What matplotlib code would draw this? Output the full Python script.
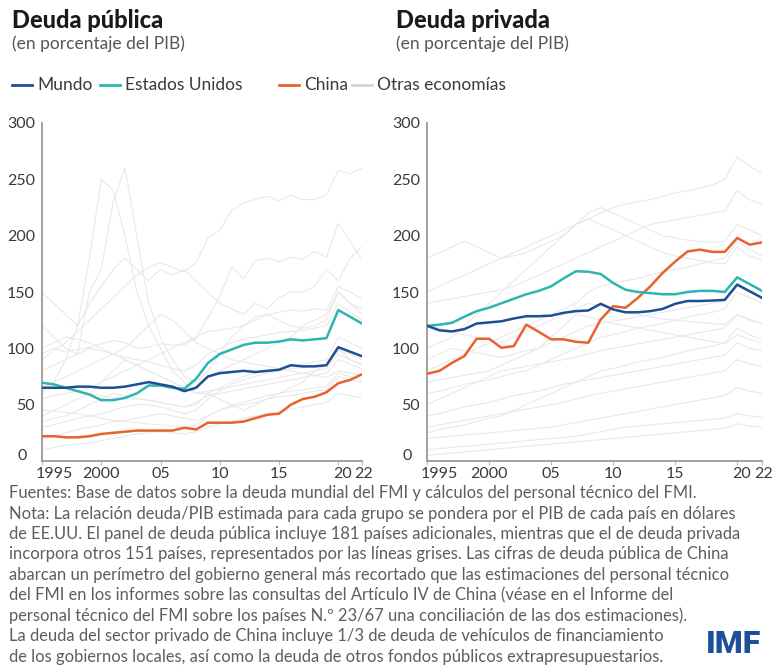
import matplotlib
matplotlib.use("Agg")
import matplotlib.pyplot as plt
import matplotlib.transforms as mtransforms
from matplotlib.lines import Line2D

FONT = ["Lato", "DejaVu Sans"]
plt.rcParams["font.family"] = FONT

years = list(range(1995, 2023))
xtick_years = [1995, 2000, 2005, 2010, 2015, 2020, 2022]
xtick_labels = ["1995", "2000", "05", "10", "15", "20", "22"]
yticks = [0, 50, 100, 150, 200, 250, 300]

# ---- Deuda pública (% del PIB) ----
pub_mundo = [65, 65, 65, 66, 66, 65, 65, 66, 68, 70, 68, 66, 62, 65, 75, 78, 79, 80, 79, 80, 81, 85, 84, 84, 85, 101, 97, 93]
pub_eeuu = [69.5, 68, 65, 62, 59, 54, 54, 56, 60, 67, 67, 65, 64, 73, 87, 95, 99, 103, 105, 105, 106, 108, 107, 108, 109, 134, 128, 122]
pub_china = [22, 22, 21, 21, 22, 24, 25, 26, 27, 27, 27, 27, 29.5, 28, 34, 34, 34, 35, 38, 41, 42, 50, 55, 57, 61, 69, 72, 77]

pub_otras = [
    [90, 98, 105, 115, 125, 135, 145, 155, 165, 172, 176, 172, 168, 176, 198, 205, 222, 229, 232, 235, 231, 236, 232, 232, 236, 258, 255, 260],
    [95, 100, 97, 99, 101, 104, 107, 105, 100, 101, 104, 103, 103, 109, 127, 146, 172, 162, 178, 180, 177, 181, 179, 186, 181, 211, 195, 178],
    [150, 140, 130, 120, 140, 155, 170, 180, 170, 160, 170, 165, 170, 160, 150, 140, 135, 130, 140, 135, 145, 150, 150, 155, 170, 160, 180, 190],
    [60, 70, 90, 120, 180, 250, 240, 200, 150, 120, 100, 80, 70, 60, 60, 55, 50, 45, 50, 55, 60, 65, 70, 80, 85, 100, 90, 85],
    [120, 110, 100, 95, 150, 170, 230, 260, 200, 140, 110, 90, 75, 70, 75, 80, 85, 90, 95, 100, 105, 110, 120, 125, 130, 150, 140, 135],
    [40, 45, 50, 55, 60, 70, 80, 90, 85, 80, 75, 70, 65, 70, 80, 95, 110, 120, 125, 130, 125, 120, 118, 120, 125, 150, 140, 130],
    [55, 58, 60, 62, 65, 70, 75, 80, 85, 90, 95, 100, 105, 110, 115, 116, 118, 120, 128, 130, 132, 134, 133, 135, 134, 155, 150, 144],
    [30, 32, 35, 38, 40, 42, 45, 48, 50, 50, 48, 45, 42, 45, 55, 62, 68, 72, 75, 78, 80, 82, 83, 84, 85, 98, 95, 90],
    [70, 68, 65, 62, 60, 58, 56, 55, 55, 54, 52, 50, 48, 50, 60, 65, 70, 75, 78, 80, 82, 84, 86, 88, 90, 110, 105, 100],
    [20, 22, 25, 28, 30, 32, 35, 36, 38, 40, 42, 40, 38, 36, 40, 45, 50, 52, 55, 58, 60, 62, 63, 65, 66, 78, 75, 72],
    [45, 44, 43, 42, 40, 38, 36, 35, 34, 33, 32, 31, 30, 32, 40, 45, 48, 50, 52, 55, 57, 58, 60, 62, 63, 75, 72, 70],
    [80, 85, 90, 95, 100, 98, 95, 92, 90, 88, 85, 82, 80, 85, 95, 100, 105, 108, 110, 112, 114, 115, 116, 118, 120, 140, 132, 125],
    [10, 12, 14, 15, 16, 18, 20, 22, 24, 25, 26, 25, 24, 26, 30, 33, 35, 38, 40, 42, 44, 46, 48, 50, 52, 60, 58, 56],
    [100, 105, 110, 108, 105, 100, 95, 90, 85, 80, 75, 70, 65, 60, 62, 64, 66, 68, 70, 72, 74, 76, 78, 80, 82, 95, 90, 86],
    [35, 38, 40, 45, 50, 55, 60, 58, 56, 54, 52, 50, 48, 52, 58, 60, 62, 64, 66, 68, 70, 72, 74, 76, 78, 90, 86, 82],
    [65, 70, 75, 80, 85, 90, 95, 100, 110, 120, 130, 125, 115, 105, 100, 95, 90, 88, 86, 84, 82, 80, 78, 76, 74, 80, 78, 76],
]

# ---- Deuda privada (% del PIB) ----
priv_mundo = [120, 116, 115, 117, 122, 123, 124, 126.5, 128.5, 128.5, 129, 131.5, 133, 133.6, 139.5, 134.5, 132, 132, 133, 135, 139.5, 142, 142, 142.4, 143, 156.6, 150.7, 144.8]
priv_eeuu = [120, 121, 122.6, 128, 133, 136, 140, 144, 148, 151, 155, 162, 168.4, 168, 166, 158, 152, 150, 149, 148, 148, 150, 151, 151, 150, 163, 157, 151]
priv_china = [77.4, 80, 87, 93, 108.5, 108.5, 100.5, 102, 121, 114.7, 108, 108, 105.8, 105, 125.6, 137.4, 136, 144.8, 155, 167, 177, 186, 187.6, 185.6, 185.6, 198, 192, 194]

priv_otras = [
    [150, 155, 160, 165, 170, 175, 180, 185, 190, 195, 200, 205, 210, 215, 220, 225, 228, 230, 232, 235, 238, 240, 242, 245, 250, 270, 262, 255],
    [180, 185, 190, 195, 190, 185, 180, 182, 185, 190, 195, 200, 210, 220, 225, 220, 215, 210, 205, 200, 198, 196, 195, 194, 195, 210, 205, 200],
    [100, 105, 110, 120, 130, 140, 150, 160, 170, 180, 190, 200, 210, 215, 210, 205, 200, 195, 190, 185, 182, 180, 178, 176, 175, 190, 182, 178],
    [80, 85, 90, 95, 100, 105, 110, 115, 120, 125, 130, 135, 140, 150, 155, 158, 160, 162, 165, 168, 170, 172, 175, 178, 180, 195, 188, 182],
    [60, 62, 65, 68, 70, 72, 75, 78, 80, 85, 90, 95, 100, 105, 110, 112, 115, 118, 120, 122, 125, 128, 130, 132, 135, 150, 145, 140],
    [40, 42, 45, 48, 50, 52, 55, 58, 60, 62, 65, 68, 70, 75, 80, 82, 85, 88, 90, 92, 95, 98, 100, 102, 105, 118, 112, 108],
    [120, 118, 115, 112, 110, 108, 105, 110, 115, 120, 125, 130, 135, 140, 138, 135, 132, 130, 128, 126, 125, 124, 123, 122, 121, 130, 126, 122],
    [30, 32, 34, 36, 38, 40, 42, 44, 46, 48, 50, 52, 55, 58, 60, 62, 64, 66, 68, 70, 72, 74, 76, 78, 80, 90, 86, 84],
    [20, 21, 22, 23, 24, 25, 26, 27, 28, 29, 30, 32, 34, 36, 38, 40, 42, 44, 46, 48, 50, 52, 54, 56, 58, 65, 62, 60],
    [90, 95, 100, 98, 96, 94, 92, 95, 98, 100, 105, 110, 115, 120, 122, 124, 126, 128, 130, 132, 134, 136, 138, 140, 142, 155, 150, 146],
    [10, 11, 12, 13, 14, 15, 16, 17, 18, 19, 20, 21, 22, 24, 26, 28, 30, 31, 32, 33, 34, 35, 36, 37, 38, 42, 40, 39],
    [70, 72, 74, 76, 78, 80, 85, 90, 95, 100, 110, 120, 130, 128, 125, 122, 120, 118, 116, 114, 112, 110, 108, 106, 104, 112, 108, 105],
    [50, 55, 60, 65, 70, 75, 80, 82, 84, 86, 88, 90, 92, 95, 98, 100, 102, 104, 106, 108, 110, 112, 114, 116, 118, 130, 125, 122],
    [140, 142, 144, 146, 148, 150, 152, 155, 160, 165, 170, 175, 180, 185, 190, 195, 200, 205, 210, 212, 214, 216, 218, 220, 222, 240, 232, 228],
    [25, 28, 30, 32, 35, 38, 40, 45, 50, 55, 60, 65, 70, 72, 74, 76, 78, 80, 82, 84, 86, 88, 90, 92, 94, 105, 100, 98],
    [5, 6, 7, 8, 9, 10, 11, 12, 13, 14, 15, 16, 17, 18, 19, 20, 21, 22, 23, 24, 25, 26, 27, 28, 29, 33, 31, 30],
]

titles = ["Deuda pública", "Deuda privada"]
subtitle = "(en porcentaje del PIB)"
legend_labels = ["Mundo", "Estados Unidos", "China", "Otras economías"]
notes = [
    "Fuentes: Base de datos sobre la deuda mundial del FMI y cálculos del personal técnico del FMI.",
    "Nota: La relación deuda/PIB estimada para cada grupo se pondera por el PIB de cada país en dólares",
    "de EE.UU. El panel de deuda pública incluye 181 países adicionales, mientras que el de deuda privada",
    "incorpora otros 151 países, representados por las líneas grises. Las cifras de deuda pública de China",
    "abarcan un perímetro del gobierno general más recortado que las estimaciones del personal técnico",
    "del FMI en los informes sobre las consultas del Artículo IV de China (véase en el Informe del",
    "personal técnico del FMI sobre los países N.º 23/67 una conciliación de las dos estimaciones).",
    "La deuda del sector privado de China incluye 1/3 de deuda de vehículos de financiamiento",
    "de los gobiernos locales, así como la deuda de otros fondos públicos extrapresupuestarios.",
]

C_MUNDO = "#1f4f93"
C_EEUU = "#2db5b2"
C_CHINA = "#e8622d"
C_GRAY = "#e9e9e9"
TXT = "#3a3a3a"

W, H = 772, 667
fig = plt.figure(figsize=(W / 100, H / 100), dpi=100)
fig.patch.set_facecolor("white")


def px(x, y):
    return x / W, 1 - y / H


panels = [
    (42, 362, pub_otras, pub_mundo, pub_eeuu, pub_china),
    (427, 762, priv_otras, priv_mundo, priv_eeuu, priv_china),
]
y_top, y_bot = 123, 461

for i, (x0, x1, otras, mundo, eeuu, china) in enumerate(panels):
    ax = fig.add_axes([x0 / W, 1 - y_bot / H, (x1 - x0) / W, (y_bot - y_top) / H])
    for s in otras:
        ax.plot(years, s, color=C_GRAY, lw=0.8, zorder=1)
    ax.plot(years, china, color=C_CHINA, lw=1.8, zorder=3)
    ax.plot(years, eeuu, color=C_EEUU, lw=1.8, zorder=3)
    ax.plot(years, mundo, color=C_MUNDO, lw=1.8, zorder=4)
    ax.set_xlim(1995, 2022)
    ax.set_ylim(0, 300)
    ax.set_yticks(yticks)
    ax.set_yticklabels([str(v) for v in yticks])
    ax.set_xticks(xtick_years)
    ax.set_xticklabels(xtick_labels)
    for sp in ["top", "right"]:
        ax.spines[sp].set_visible(False)
    for sp in ["left", "bottom"]:
        ax.spines[sp].set_color("#9a9a9a")
        ax.spines[sp].set_linewidth(1.3)
    ax.tick_params(axis="y", length=0, pad=5, labelsize=11.5, labelcolor=TXT)
    ax.tick_params(axis="x", length=3, width=0.8, color="#bbbbbb", pad=1, labelsize=11.5, labelcolor=TXT)
    ax.set_facecolor("none")
    # label offsets (layout only)
    xl = ax.get_xticklabels()
    offs = [12, 0, 0, 0, 0, 4, 2]
    for lab, o in zip(xl, offs):
        lab.set_transform(lab.get_transform() + mtransforms.ScaledTranslation(o / 100, 0, fig.dpi_scale_trans))
    yl = ax.get_yticklabels()
    yl[0].set_transform(yl[0].get_transform() + mtransforms.ScaledTranslation(-8 / 100, 6 / 100, fig.dpi_scale_trans))

    tx = 12 if i == 0 else 396
    fig.text(*px(tx, 20), titles[i], fontsize=17, fontweight="black", color="#1a1a1a", va="center", ha="left", family=FONT)
    fig.text(*px(tx, 44), subtitle, fontsize=12.5, color="#555555", va="center", ha="left", family=FONT)

# legend
leg_items = [(12, C_MUNDO, 0), (100, C_EEUU, 1), (279, C_CHINA, 2), (352, "#d4d4d4", 3)]
for lx, col, k in leg_items:
    x_a, y_a = px(lx, 85)
    x_b, _ = px(lx + 20, 85)
    fig.add_artist(Line2D([x_a, x_b], [y_a, y_a], color=col, lw=2.0, transform=fig.transFigure))
    fig.text(*px(lx + 25, 85), legend_labels[k], fontsize=12.5, color=TXT, va="center", ha="left", family=FONT)

# notes
for j, line in enumerate(notes):
    fig.text(*px(9, 493 + j * 20.5), line, fontsize=11.9, color="#5e5e5e", va="center", ha="left", family=FONT)

fig.text(*px(761, 644), "IMF", fontsize=23, fontweight="black", color="#1c4f9c", va="center", ha="right",
         family=["Roboto", "DejaVu Sans"])

fig.savefig("out.png", dpi=100, facecolor="white")
